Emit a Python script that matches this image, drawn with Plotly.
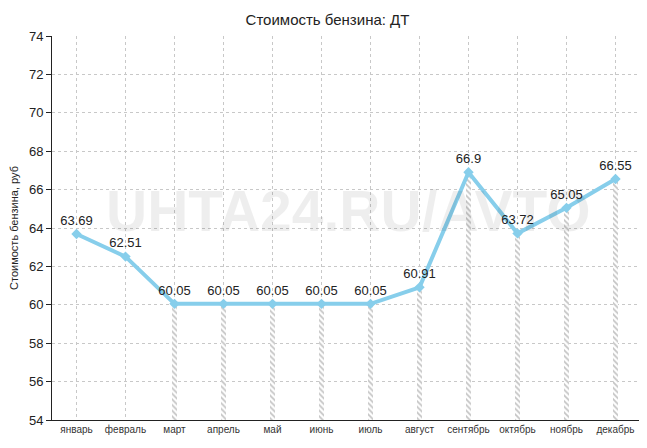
import plotly.graph_objects as go

months = ["январь", "февраль", "март", "апрель", "май", "июнь", "июль",
          "август", "сентябрь", "октябрь", "ноябрь", "декабрь"]
prices = [63.69, 62.51, 60.05, 60.05, 60.05, 60.05, 60.05, 60.91, 66.9, 63.72, 65.05, 66.55]
y_ticks = list(range(54, 75, 2))
hatch_start = 2  # hatched drop bars from March onward

title = "Стоимость бензина: ДТ"
y_title = "Стоимость бензина, руб"
watermark = "UHTA24.RU/AVTO"

fig = go.Figure()

fig.add_trace(go.Bar(
    x=months[hatch_start:], y=prices[hatch_start:],
    width=0.085,
    marker=dict(color="white", line=dict(width=0),
                pattern=dict(shape="\\", fgcolor="#8a8a8a", bgcolor="white",
                             size=4, solidity=0.45)),
    hoverinfo="skip", showlegend=False,
))

fig.add_trace(go.Scatter(
    x=months, y=prices,
    mode="lines+markers+text",
    line=dict(color="#87ceeb", width=4),
    marker=dict(symbol="diamond", size=8, color="#87ceeb"),
    text=[str(v) for v in prices],
    textposition="top center",
    textfont=dict(family="Liberation Sans, Arial", size=13, color="#222"),
    showlegend=False,
))

fig.add_annotation(
    text=watermark, xref="paper", yref="paper", x=0.505, y=0.545,
    showarrow=False,
    font=dict(family="Liberation Sans, Arial", size=57, color="rgba(0,0,0,0.065)", weight="bold"),
)

fig.update_layout(
    width=639, height=440,
    margin=dict(l=44, r=7, t=28, b=28, autoexpand=False),
    paper_bgcolor="white", plot_bgcolor="white",
    title=dict(text=title, x=0.5, xanchor="center", y=0.973, yanchor="middle",
               font=dict(family="Liberation Sans, Arial", size=15, color="#222")),
    font=dict(family="Liberation Sans, Arial", color="#222"),
    bargap=0,
)

fig.update_xaxes(
    type="category", categoryorder="array", categoryarray=months,
    range=[-0.5, 11.5], automargin=False,
    showline=True, linecolor="#222", linewidth=1,
    showgrid=True, gridcolor="#c8c8c8", griddash="dot", gridwidth=1,
    ticks="", tickfont=dict(size=10, color="#333"),
    zeroline=False,
)

fig.update_yaxes(
    range=[54, 74], tickvals=y_ticks, automargin=False,
    showline=True, linecolor="#222", linewidth=1, mirror=True,
    ticks="outside", ticklen=5, tickcolor="#222",
    showgrid=True, gridcolor="#c8c8c8", griddash="dot", gridwidth=1,
    tickfont=dict(size=13, color="#222"),
    title=dict(text=y_title, font=dict(size=11, color="#222"), standoff=8),
    zeroline=False,
)

fig.write_html("out.html")
